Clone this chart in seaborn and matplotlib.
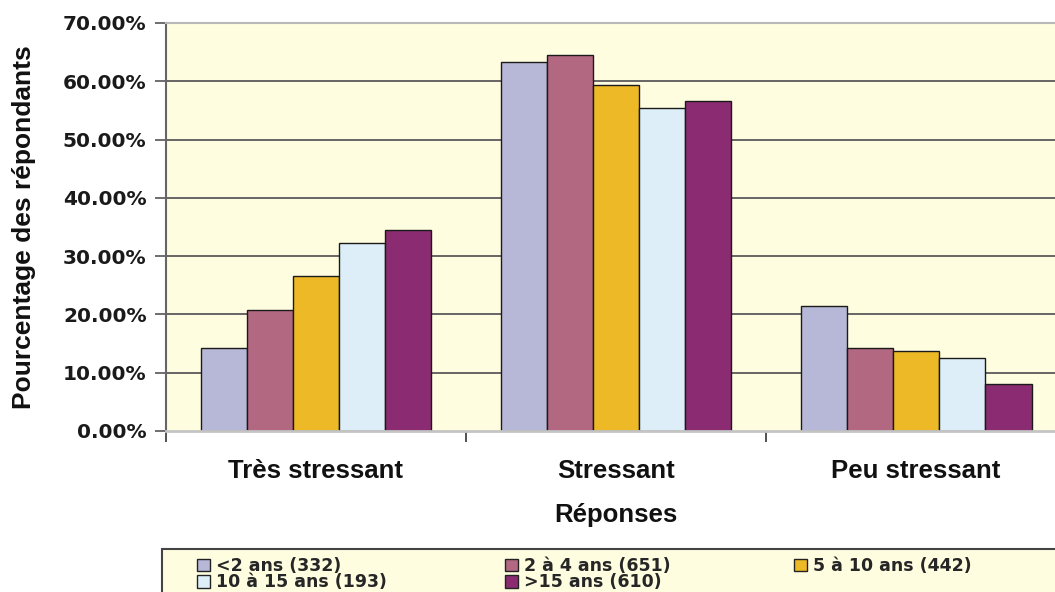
import matplotlib
matplotlib.use("Agg")
import matplotlib.pyplot as plt
from matplotlib.patches import Rectangle
from matplotlib.ticker import FuncFormatter, FixedLocator
import pandas as pd
import seaborn as sns

# Response categories (x axis)
responses = ["Très stressant", "Stressant", "Peu stressant"]

# Seniority groups (legend) and the share of respondents per response, in %
groups = ["<2 ans (332)", "2 à 4 ans (651)", "5 à 10 ans (442)",
          "10 à 15 ans (193)", ">15 ans (610)"]
lt2 = [14.3, 63.3, 21.5]
y2_4 = [20.7, 64.5, 14.2]
y5_10 = [26.6, 59.3, 13.8]
y10_15 = [32.2, 55.5, 12.5]
gt15 = [34.4, 56.7, 8.1]

colors = ["#B7B7D7", "#B36882", "#EDB927", "#DDEEF8", "#8B2C72"]

series = [lt2, y2_4, y5_10, y10_15, gt15]
rows = []
for g, vals in zip(groups, series):
    for r, v in zip(responses, vals):
        rows.append({"Réponses": r, "Ancienneté": g, "Pourcentage": v})
df = pd.DataFrame(rows)

sns.set_style("white")
plt.rcParams["font.family"] = ["Liberation Sans", "DejaVu Sans"]

W, H = 1055, 592
fig = plt.figure(figsize=(W / 100, H / 100), dpi=100)
fig.patch.set_facecolor("white")

# plot area in pixel units: x 166..1066, y 23..431 (top-down)
ax = fig.add_axes([166 / W, 1 - 431 / H, 900 / W, 408 / H])
ax.set_facecolor("#FFFDE0")

sns.barplot(data=df, x="Réponses", y="Pourcentage", hue="Ancienneté",
            order=responses, hue_order=groups, palette=colors,
            width=0.77, gap=0, edgecolor="#1a1a1a", linewidth=1.0,
            saturation=1, ax=ax, legend=True)

handles, labels = ax.get_legend_handles_labels()
ax.get_legend().remove()

ax.set_ylim(0, 70)
ax.set_xlim(-0.5, 2.5)
ax.yaxis.set_major_locator(FixedLocator(range(0, 71, 10)))
ax.yaxis.set_major_formatter(FuncFormatter(lambda v, p: f"{v:.2f}%"))

# horizontal grid lines between 10% and 60%
ax.set_axisbelow(True)
for v in range(10, 61, 10):
    ax.axhline(v, color="#5a5a5a", lw=1.3, zorder=0.5)

for lab in ax.get_yticklabels():
    lab.set_fontfamily("DejaVu Sans")
    lab.set_fontweight("bold")
    lab.set_fontsize(14.5)
    lab.set_color("#1a1a1a")
ax.tick_params(axis="y", direction="out", length=8, width=1.2,
               color="#555555", pad=6, left=True)

# category labels at centres, separator ticks at boundaries
ax.xaxis.set_minor_locator(FixedLocator([-0.5, 0.5, 1.5, 2.5]))
ax.tick_params(axis="x", which="major", length=0, pad=20)
ax.tick_params(axis="x", which="minor", direction="out", length=8,
               width=1.2, color="#333333", bottom=True)
for lab in ax.get_xticklabels():
    lab.set_fontweight("bold")
    lab.set_fontsize(18.5)
    lab.set_color("#111111")

ax.set_ylabel("Pourcentage des répondants", fontsize=19, fontweight="bold",
              color="#111111", va="center")
ax.yaxis.set_label_coords(-0.158, 0.5)
ax.set_xlabel("Réponses", fontsize=18.5, fontweight="bold", color="#111111",
              va="top")
ax.xaxis.set_label_coords(0.5, -0.176)

ax.spines["right"].set_visible(False)
ax.spines["left"].set_color("#666666")
ax.spines["left"].set_linewidth(1.5)
ax.spines["top"].set_color("#B8B8B8")
ax.spines["top"].set_linewidth(1.5)
ax.spines["bottom"].set_color("#C4C4C4")
ax.spines["bottom"].set_linewidth(2.0)

# legend box
fig.patches.append(Rectangle((162 / W, -0.05), 1.0, (H - 549) / H + 0.05,
                             transform=fig.transFigure, facecolor="#FFFDE0",
                             edgecolor="#444444", lw=1.5, zorder=0))

legend_cols = [([0, 3], 197), ([1, 4], 505), ([2], 794)]
for idx, xpix in legend_cols:
    leg = fig.legend([handles[i] for i in idx], [labels[i] for i in idx],
                     loc="upper left", bbox_to_anchor=(xpix / W, 1 - 557 / H),
                     frameon=False, ncol=1, borderpad=0, borderaxespad=0,
                     handlelength=0.75, handleheight=0.75, handletextpad=0.35,
                     labelspacing=-0.1,
                     prop={"family": "DejaVu Sans", "weight": "bold", "size": 12.5})
    for h in leg.legend_handles:
        h.set_edgecolor("#222222")
        h.set_linewidth(1.0)

fig.savefig("out.png", dpi=100)
